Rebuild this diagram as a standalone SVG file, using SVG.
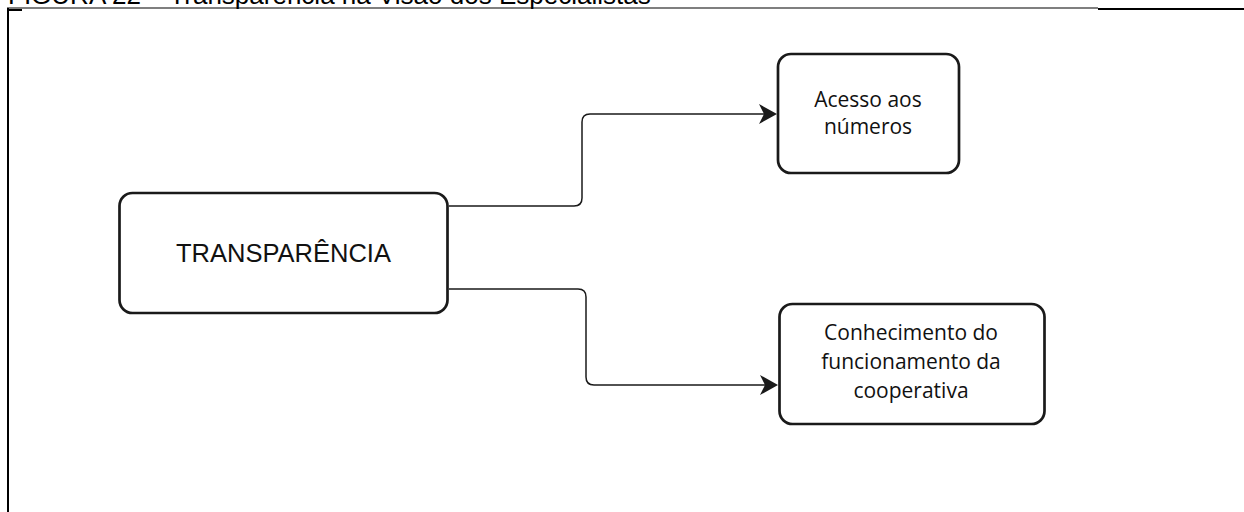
<svg xmlns="http://www.w3.org/2000/svg" width="1244" height="512" viewBox="0 0 1244 512">
  <style>
    .box { fill: #ffffff; stroke: #1a1a1a; stroke-width: 2.7; }
    .edge { fill: none; stroke: #1a1a1a; stroke-width: 1.5; }
    .title { font-family: "Liberation Sans", Arial, sans-serif; font-size: 26px; fill: #000; }
    .main { font-family: "Liberation Sans", Arial, sans-serif; font-size: 25.5px; fill: #111; text-anchor: middle; }
    .label { font-family: "Open Sans", "Noto Sans", sans-serif; font-size: 21px; fill: #111; text-anchor: middle; }
    .rule { fill: #000; }
  </style>
  <defs>
    <marker id="arrow" markerUnits="userSpaceOnUse" markerWidth="30" markerHeight="30" refX="0" refY="0" orient="auto" overflow="visible">
      <path d="M13,0 L-5,-10 L0,0 L-5,10 Z" fill="#1a1a1a"/>
    </marker>
  </defs>

  <rect width="1244" height="512" fill="#ffffff"/>

  <!-- caption, clipped by the top edge of the page -->
  <text class="title" x="8" y="4">FIGURA 22 – Transparência na Visão dos Especialistas</text>

  <!-- page frame -->
  <g id="frame">
    <rect class="rule" x="7" y="7.5" width="1091" height="1"/>
    <rect class="rule" x="1098" y="8" width="146" height="2"/>
    <rect class="rule" x="7" y="8" width="2" height="504"/>
    <rect class="rule" x="9" y="9" width="13" height="2"/>
  </g>

  <g id="connectors">
    <path class="edge" d="M449,206 H574 Q582,206 582,198 V122 Q582,114 590,114 H764" marker-end="url(#arrow)"/>
    <path class="edge" d="M449,289 H578 Q586,289 586,297 V377 Q586,385 594,385 H765" marker-end="url(#arrow)"/>
  </g>

  <g id="node-transparencia">
    <rect class="box" x="119.5" y="193" width="328" height="120" rx="13"/>
    <text class="main" x="283.5" y="262">TRANSPARÊNCIA</text>
  </g>

  <g id="node-acesso">
    <rect class="box" x="778" y="54" width="181" height="119" rx="13"/>
    <text class="label" x="868" y="107">Acesso aos</text>
    <text class="label" x="868" y="134">números</text>
  </g>

  <g id="node-conhecimento">
    <rect class="box" x="779.5" y="304" width="265" height="120" rx="13"/>
    <text class="label" x="911" y="340">Conhecimento do</text>
    <text class="label" x="911" y="369">funcionamento da</text>
    <text class="label" x="911" y="398">cooperativa</text>
  </g>
</svg>
